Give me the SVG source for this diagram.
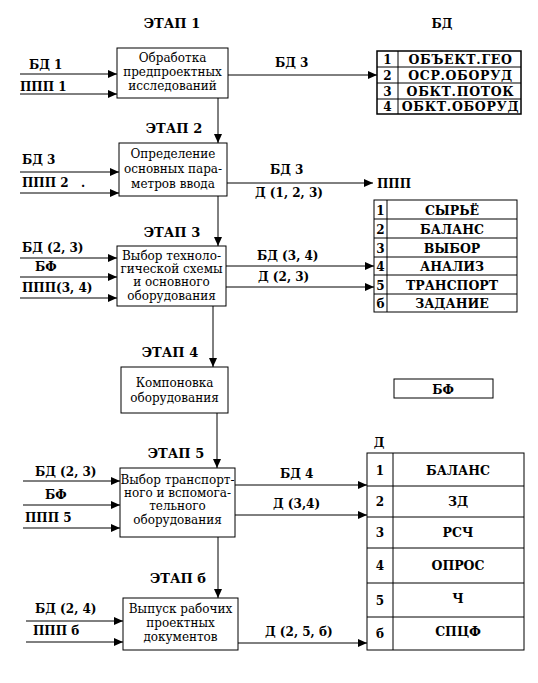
<svg xmlns="http://www.w3.org/2000/svg" width="538" height="683" viewBox="0 0 538 683" font-family="DejaVu Serif, serif">
<defs>
<marker id="ah" markerUnits="userSpaceOnUse" markerWidth="10" markerHeight="8" refX="9" refY="4" orient="auto">
<path d="M0,0 L9,4 L0,8 Z" fill="#000"/>
</marker>
<style>
.box{fill:#fff;stroke:#000;stroke-width:1}
.tb{fill:#fff;stroke:#000;stroke-width:1.5}
.ln{stroke:#000;stroke-width:1;fill:none}
.c{stroke:#000;stroke-width:1;fill:none;marker-end:url(#ah)}
.t{font-family:'DejaVu Serif',serif;font-size:12px;text-anchor:middle;fill:#000}
.b{font-family:'DejaVu Serif',serif;font-size:12px;font-weight:bold;fill:#000}
.bm{font-family:'DejaVu Serif',serif;font-size:12px;font-weight:bold;text-anchor:middle;fill:#000}
.st{font-family:'DejaVu Serif',serif;font-size:13px;font-weight:bold;text-anchor:middle;fill:#000}
.cap{font-family:'DejaVu Serif',serif;font-size:12.5px;font-weight:bold;text-anchor:middle;fill:#000}
.cap1{font-family:'DejaVu Serif',serif;font-size:12.5px;font-weight:bold;text-anchor:middle;letter-spacing:0.7px;fill:#000}
</style>
</defs>
<rect width="538" height="683" fill="#fff"/>

<g id="connectors">
<line class="c" x1="20" y1="74" x2="117" y2="74"/>
<line class="c" x1="20" y1="94" x2="117" y2="94"/>
<line class="c" x1="228" y1="75" x2="377" y2="75"/>
<line class="c" x1="218" y1="98" x2="218" y2="143"/>
<line class="c" x1="20" y1="172" x2="119" y2="172"/>
<line class="c" x1="20" y1="193" x2="119" y2="193"/>
<line class="c" x1="227" y1="183" x2="373" y2="183"/>
<line class="c" x1="218" y1="196" x2="218" y2="246"/>
<line class="c" x1="20" y1="258" x2="117" y2="258"/>
<line class="c" x1="20" y1="277" x2="117" y2="277"/>
<line class="c" x1="20" y1="298" x2="117" y2="298"/>
<line class="c" x1="226" y1="266" x2="374" y2="266"/>
<line class="c" x1="226" y1="287" x2="374" y2="287"/>
<line class="c" x1="213" y1="306" x2="213" y2="367"/>
<line class="c" x1="217" y1="413" x2="217" y2="468"/>
<line class="c" x1="23" y1="481" x2="120" y2="481"/>
<line class="c" x1="23" y1="505" x2="120" y2="505"/>
<line class="c" x1="23" y1="528" x2="120" y2="528"/>
<line class="c" x1="235" y1="485" x2="367" y2="485"/>
<line class="c" x1="235" y1="515" x2="367" y2="515"/>
<line class="c" x1="218" y1="537" x2="218" y2="598"/>
<line class="c" x1="26" y1="621" x2="123" y2="621"/>
<line class="c" x1="26" y1="642" x2="123" y2="642"/>
<line class="c" x1="238" y1="643" x2="367" y2="643"/>
</g>

<g id="labels">
<text class="st" x="172" y="28">ЭТАП 1</text>
<text class="b" x="29" y="69">БД 1</text>
<text class="b" x="20" y="91">ППП 1</text>
<text class="b" x="275" y="67">БД 3</text>
<text class="st" x="174" y="133">ЭТАП 2</text>
<text class="b" x="22" y="164">БД 3</text>
<text class="b" x="22" y="187">ППП 2</text>
<text class="b" x="81" y="187">.</text>
<text class="b" x="270" y="174">БД 3</text>
<text class="b" x="255" y="197">Д (1, 2, 3)</text>
<text class="b" x="377" y="188">ППП</text>
<text class="st" x="172" y="237">ЭТАП 3</text>
<text class="b" x="22" y="252">БД (2, 3)</text>
<text class="b" x="35" y="271">БФ</text>
<text class="b" x="22" y="292">ППП(3, 4)</text>
<text class="b" x="257" y="260">БД (3, 4)</text>
<text class="b" x="258" y="281">Д (2, 3)</text>
<text class="st" x="170" y="357">ЭТАП 4</text>
<text class="st" x="176" y="458">ЭТАП 5</text>
<text class="b" x="35" y="476">БД (2, 3)</text>
<text class="b" x="45" y="499">БФ</text>
<text class="b" x="25" y="522">ППП 5</text>
<text class="b" x="280" y="478">БД 4</text>
<text class="b" x="273" y="508">Д (3,4)</text>
<text class="st" x="178" y="583">ЭТАП б</text>
<text class="b" x="35" y="613">БД (2, 4)</text>
<text class="b" x="33" y="635">ППП б</text>
<text class="b" x="265" y="636">Д (2, 5, б)</text>
</g>

<g id="stage1">
<rect class="box" x="117" y="48" width="111" height="50"/>
<text class="t" x="172.5" y="62">Обработка</text>
<text class="t" x="172.5" y="76">предпроектных</text>
<text class="t" x="172.5" y="90">исследований</text>
</g>

<g id="stage2">
<rect class="box" x="119" y="143" width="108" height="53"/>
<text class="t" x="173" y="158">Определение</text>
<text class="t" x="173" y="173">основных пара-</text>
<text class="t" x="173" y="188">метров ввода</text>
</g>

<g id="stage3">
<rect class="box" x="117" y="246" width="109" height="60"/>
<text class="t" x="171.5" y="260">Выбор техноло-</text>
<text class="t" x="171.5" y="273">гической схемы</text>
<text class="t" x="171.5" y="286">и основного</text>
<text class="t" x="171.5" y="300">оборудования</text>
</g>

<g id="stage4">
<rect class="box" x="121" y="367" width="107" height="46"/>
<text class="t" x="174.5" y="387">Компоновка</text>
<text class="t" x="174.5" y="402">оборудования</text>
</g>

<g id="stage5">
<rect class="box" x="120" y="468" width="115" height="69"/>
<text class="t" x="177.5" y="484">Выбор транспорт-</text>
<text class="t" x="177.5" y="497">ного и вспомога-</text>
<text class="t" x="177.5" y="510">тельного</text>
<text class="t" x="177.5" y="524">оборудования</text>
</g>

<g id="stage6">
<rect class="box" x="123" y="598" width="115" height="52"/>
<text class="t" x="180.5" y="613">Выпуск рабочих</text>
<text class="t" x="180.5" y="627">проектных</text>
<text class="t" x="180.5" y="641">документов</text>
</g>

<g id="table-bd">
<text class="bm" x="442" y="28">БД</text>
<rect class="tb" x="377" y="51" width="144" height="63"/>
<path class="ln" d="M377,67H521M377,83H521M377,99H521M398,51V114"/>
<text class="bm" x="387.5" y="64">1</text>
<text class="bm" x="387.5" y="80">2</text>
<text class="bm" x="387.5" y="96">3</text>
<text class="bm" x="387.5" y="111">4</text>
<text class="cap1" x="460.5" y="64">ОБЪЕКТ.ГЕО</text>
<text class="cap1" x="460.5" y="80">ОСР.ОБОРУД</text>
<text class="cap1" x="460.5" y="96">ОБКТ.ПОТОК</text>
<text class="cap1" x="460.5" y="111">ОБКТ.ОБОРУД</text>
</g>

<g id="table-3">
<rect class="box" x="374" y="200" width="143" height="112"/>
<path class="ln" d="M374,219H517M374,238H517M374,257H517M374,275H517M374,294H517M387,200V312"/>
<text class="bm" x="380.5" y="214.5">1</text>
<text class="bm" x="380.5" y="233.5">2</text>
<text class="bm" x="380.5" y="252.5">3</text>
<text class="bm" x="380.5" y="271">4</text>
<text class="bm" x="380.5" y="289.5">5</text>
<text class="bm" x="380.5" y="308">б</text>
<text class="cap" x="452" y="214.5">СЫРЬЁ</text>
<text class="cap" x="452" y="233.5">БАЛАНС</text>
<text class="cap" x="452" y="252.5">ВЫБОР</text>
<text class="cap" x="452" y="271">АНАЛИЗ</text>
<text class="cap" x="452" y="289.5">ТРАНСПОРТ</text>
<text class="cap" x="452" y="308">ЗАДАНИЕ</text>
</g>

<g id="bf">
<rect class="box" x="394" y="379" width="99" height="19"/>
<text class="bm" x="443" y="394">БФ</text>
</g>

<g id="table-d">
<text class="bm" x="379" y="447">Д</text>
<rect class="box" x="367" y="453" width="157" height="197"/>
<path class="ln" d="M367,486H524M367,517H524M367,548H524M367,583H524M367,617H524M393,453V650"/>
<text class="bm" x="380" y="475">1</text>
<text class="bm" x="380" y="506">2</text>
<text class="bm" x="380" y="537">3</text>
<text class="bm" x="380" y="570">4</text>
<text class="bm" x="380" y="605">5</text>
<text class="bm" x="380" y="638">б</text>
<text class="cap" x="458" y="475">БАЛАНС</text>
<text class="cap" x="458" y="506">ЗД</text>
<text class="cap" x="458" y="537">РСЧ</text>
<text class="cap" x="458" y="570">ОПРОС</text>
<text class="cap" x="458" y="603">Ч</text>
<text class="cap" x="458" y="636">СПЦФ</text>
</g>
</svg>
